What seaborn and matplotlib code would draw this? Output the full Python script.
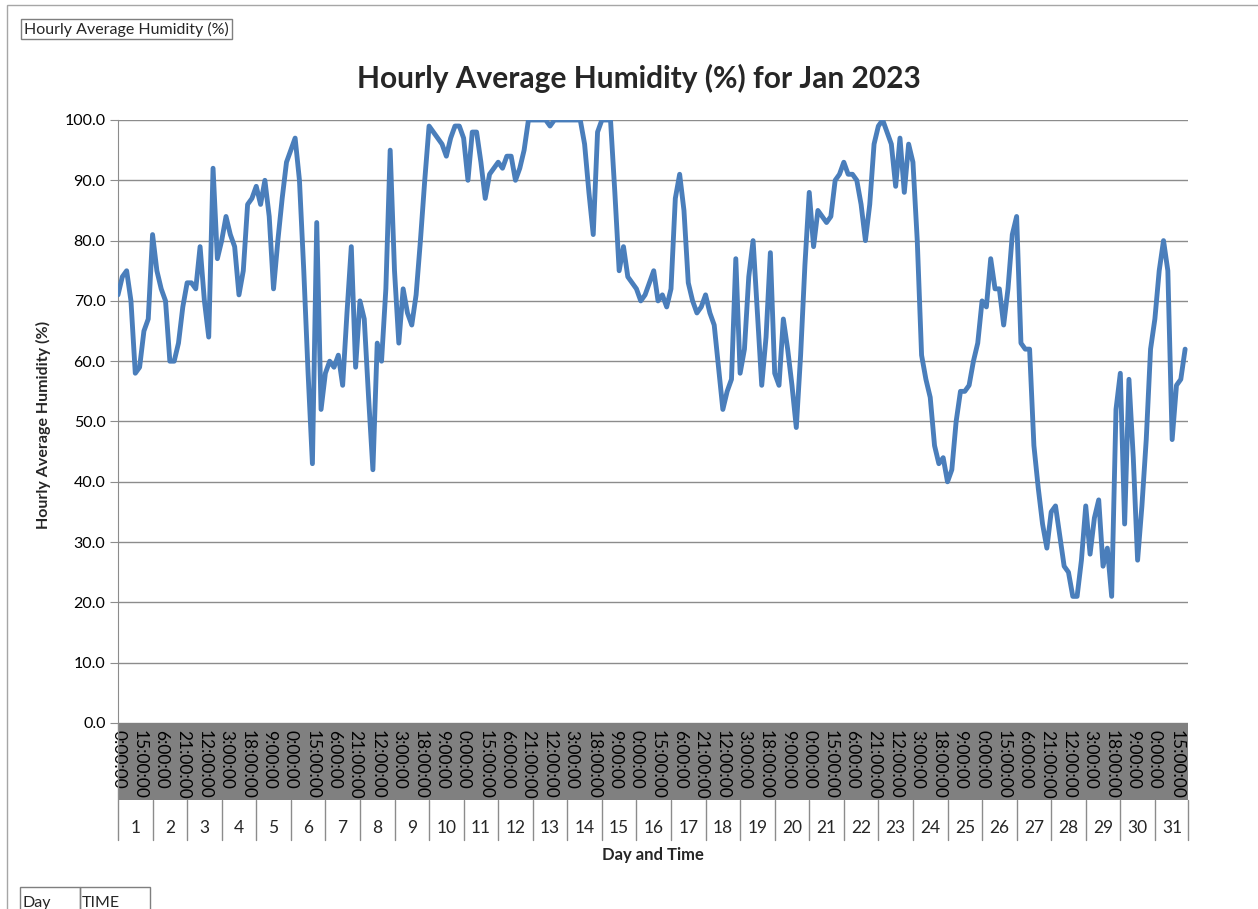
import matplotlib
matplotlib.use('Agg')
import numpy as np
import pandas as pd
import seaborn as sns
import matplotlib.pyplot as plt
from matplotlib.patches import Rectangle
from matplotlib.transforms import blended_transform_factory

# humidity readings every 3 hours (00,03,...,21h), one row per day
week1 = [71, 74, 75, 70, 58, 59, 65, 67,   # 1
         81, 75, 72, 70, 60, 60, 63, 69,   # 2
         73, 73, 72, 79, 70, 64, 92, 77,   # 3
         80, 84, 81, 79, 71, 75, 86, 87,   # 4
         89, 86, 90, 84, 72, 80, 87, 93,   # 5
         95, 97, 90, 75, 58, 43, 83, 52,   # 6
         58, 60, 59, 61, 56, 68, 79, 59]   # 7
week2 = [70, 67, 54, 42, 63, 60, 72, 95,   # 8
         75, 63, 72, 68, 66, 71, 80, 90,   # 9
         99, 98, 97, 96, 94, 97, 99, 99,   # 10
         97, 90, 98, 98, 93, 87, 91, 92,   # 11
         93, 92, 94, 94, 90, 92, 95, 100,  # 12
         100, 100, 100, 100, 99, 100, 100, 100,  # 13
         100, 100, 100, 100, 96, 88, 81, 98]     # 14
week3 = [100, 100, 100, 88, 75, 79, 74, 73,  # 15
         72, 70, 71, 73, 75, 70, 71, 69,   # 16
         72, 87, 91, 85, 73, 70, 68, 69,   # 17
         71, 68, 66, 59, 52, 55, 57, 77,   # 18
         58, 62, 74, 80, 68, 56, 64, 78,   # 19
         58, 56, 67, 62, 56, 49, 61, 76,   # 20
         88, 79, 85, 84, 83, 84, 90, 91]   # 21
week4 = [93, 91, 91, 90, 86, 80, 86, 96,   # 22
         99, 100, 98, 96, 89, 97, 88, 96,  # 23
         93, 80, 61, 57, 54, 46, 43, 44,   # 24
         40, 42, 50, 55, 55, 56, 60, 63,   # 25
         70, 69, 77, 72, 72, 66, 72, 81,   # 26
         84, 63, 62, 62, 46, 39, 33, 29,   # 27
         35, 36, 31, 26, 25, 21, 21, 27]   # 28
week5 = [36, 28, 34, 37, 26, 29, 21, 52,   # 29
         58, 33, 57, 44, 27, 36, 47, 62,   # 30
         67, 75, 80, 75, 47, 56, 57, 62]   # 31

days = list(range(1, 32))
tick_hours = list(range(0, 744, 15))
tick_labels = [f'{h % 24}:00:00' for h in tick_hours]
y_ticks = list(range(0, 101, 10))

humidity = week1 + week2 + week3 + week4 + week5
df = pd.DataFrame({'hour': np.arange(0, 744, 3), 'humidity': humidity})

sns.set_style('white')
plt.rcParams['font.family'] = ['Lato', 'DejaVu Sans']

W, H = 1258, 909
fig = plt.figure(figsize=(W / 100, H / 100), dpi=100)
ax = fig.add_axes([118 / W, (H - 723) / H, 1070 / W, 603 / H])

sns.lineplot(data=df, x='hour', y='humidity', color='#4a7ebb', linewidth=3.5,
             ax=ax, solid_joinstyle='round', solid_capstyle='round', zorder=3)

ax.set_xlim(0, 743)
ax.set_ylim(0, 100)
ax.set_yticks(y_ticks)
ax.set_yticklabels([f'{v:.1f}' for v in y_ticks], fontsize=11.5)
ax.yaxis.grid(True, color='#8c8c8c', linewidth=1)
ax.xaxis.grid(False)
for s in ['top', 'right', 'bottom']:
    ax.spines[s].set_visible(False)
ax.spines['left'].set_color('#8c8c8c')
ax.tick_params(axis='y', length=6, color='#8c8c8c', left=True, pad=3, labelcolor='black')

ax.set_xticks(tick_hours)
ax.set_xticklabels(tick_labels, rotation=-90, fontsize=12.5)
ax.tick_params(axis='x', length=0, pad=5, labelcolor='black')
ax.set_xlabel('')
ax.set_ylabel('Hourly Average Humidity (%)', fontsize=11.5, fontweight='bold')
ax.yaxis.set_label_coords((51 - 118) / 1070, 0.494)

# grey band behind the time labels
band_bottom = -(800 - 723) / 603
row_bottom = -(840 - 723) / 603
ax.add_patch(Rectangle((0, band_bottom), 1, -band_bottom, transform=ax.transAxes,
                       facecolor='#808080', edgecolor='none', clip_on=False, zorder=0.1))

trans = blended_transform_factory(ax.transData, ax.transAxes)
ax.plot([0, 0], [0, row_bottom], transform=trans, color='#8c8c8c', lw=1, clip_on=False)
for d in days:
    x = min(24 * d, 743)
    ax.plot([x, x], [band_bottom, row_bottom], transform=trans, color='#8c8c8c',
            lw=1, clip_on=False)
    ax.text(24 * (d - 1) + 12, -(828 - 723) / 603, str(d), transform=trans,
            ha='center', va='center', fontsize=12.5)

fig.text(639 / W, 1 - 78 / H, 'Hourly Average Humidity (%) for Jan 2023',
         ha='center', va='center', fontsize=21.5, fontweight='bold')
fig.text(653 / W, 1 - 855 / H, 'Day and Time', ha='center', va='center',
         fontsize=12, fontweight='bold')

# chart area border and pivot field buttons
fig.patches.append(Rectangle((7 / W, -0.05), 1.5, 1.05 - 5 / H, transform=fig.transFigure,
                             fill=False, edgecolor='#a6a6a6', lw=1, zorder=-1))
fig.text(24 / W, 1 - 29 / H, 'Hourly Average Humidity (%)', fontsize=11.5, va='center',
         bbox=dict(boxstyle='square,pad=0.18', fc='white', ec='#7f7f7f', lw=1))
fig.patches.append(Rectangle((20 / W, -0.01), 60 / W, 0.01 + 22 / H, transform=fig.transFigure,
                             fill=False, edgecolor='#7f7f7f', lw=1))
fig.patches.append(Rectangle((80 / W, -0.01), 70 / W, 0.01 + 22 / H, transform=fig.transFigure,
                             fill=False, edgecolor='#7f7f7f', lw=1))
fig.text(22 / W, 1 - 896 / H, 'Day', fontsize=11.5, va='top')
fig.text(82 / W, 1 - 896 / H, 'TIME', fontsize=11.5, va='top')

fig.savefig('out.png', dpi=100)
